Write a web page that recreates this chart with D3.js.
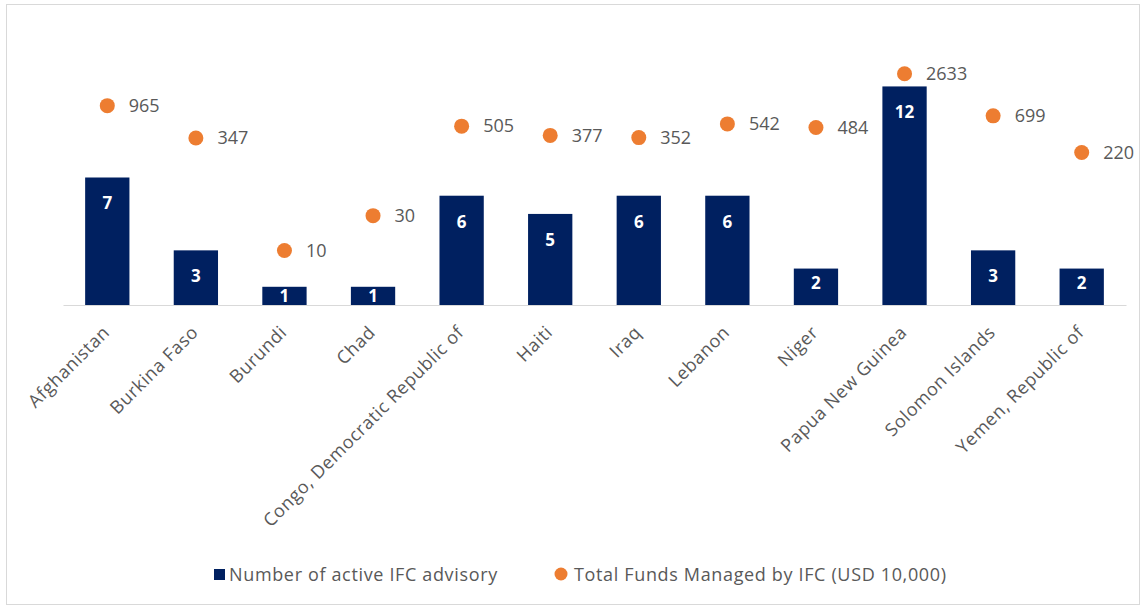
<!DOCTYPE html>
<html>
<head>
<meta charset="utf-8">
<script src="https://cdn.jsdelivr.net/npm/d3@7"></script>
<style>
  body { margin: 0; background: #fff; }
  text { font-family: "Open Sans", sans-serif; }
</style>
</head>
<body>
<div class="chart"></div>
<script>
var countries = ["Afghanistan", "Burkina Faso", "Burundi", "Chad", "Congo, Democratic Republic of",
                 "Haiti", "Iraq", "Lebanon", "Niger", "Papua New Guinea", "Solomon Islands", "Yemen, Republic of"];
var advisory = [7, 3, 1, 1, 6, 5, 6, 6, 2, 12, 3, 2];
var funds = [965, 347, 10, 30, 505, 377, 352, 542, 484, 2633, 699, 220];
var seriesNames = ["Number of active IFC advisory", "Total Funds Managed by IFC (USD 10,000)"];

var navy = "#002060",
    orange = "#ED7D31",
    grey = "#595959";

var svg = d3.select(".chart").append("svg")
            .attr("width", 1142)
            .attr("height", 607);

// chart border
svg.append("rect")
   .attr("x", 6.5)
   .attr("y", 4.5)
   .attr("width", 1133)
   .attr("height", 600)
   .attr("fill", "#fff")
   .attr("stroke", "#d9d9d9");

var x = d3.scaleBand()
          .domain(countries)
          .range([63, 1126])
          .paddingInner(0.5)
          .paddingOuter(0.25);

var y = d3.scaleLinear()
          .domain([0, 14])
          .range([305, 50]);

// secondary axis is logarithmic
var y2 = d3.scaleLog()
           .domain([1, 10000])
           .range([323.5, 31.5]);

// bars
svg.selectAll(".bar")
   .data(advisory)
   .enter().append("rect")
   .attr("class", "bar")
   .attr("x", function(d, i) { return x(countries[i]); })
   .attr("y", function(d) { return y(d); })
   .attr("width", x.bandwidth())
   .attr("height", function(d) { return y(0) - y(d); })
   .style("fill", navy);

svg.selectAll(".barlabel")
   .data(advisory)
   .enter().append("text")
   .attr("class", "barlabel")
   .attr("x", function(d, i) { return x(countries[i]) + x.bandwidth() / 2; })
   .attr("y", function(d) {
      var h = y(0) - y(d);
      return h > 45 ? y(d) + 26 : y(d) + Math.min(14, h / 2);
   })
   .attr("dy", "0.35em")
   .attr("text-anchor", "middle")
   .attr("fill", "#fff")
   .style("font-size", "17px")
   .style("font-weight", "bold")
   .text(function(d) { return d; });

// category axis
var xAxis = svg.append("g")
               .attr("transform", "translate(0,305)")
               .call(d3.axisBottom(x).tickSize(0).tickPadding(0));

xAxis.select(".domain")
     .attr("stroke", "#d9d9d9")
     .attr("stroke-width", 1.2);

xAxis.selectAll("text")
     .attr("fill", grey)
     .style("font-size", "18px")
     .style("letter-spacing", "0.6px")
     .attr("text-anchor", "end")
     .attr("y", 0)
     .attr("dy", "0.35em")
     .attr("transform", "translate(-1,24) rotate(-45)");

// funds dots
svg.selectAll(".dot")
   .data(funds)
   .enter().append("circle")
   .attr("class", "dot")
   .attr("cx", function(d, i) { return x(countries[i]) + x.bandwidth() / 2; })
   .attr("cy", function(d) { return y2(d); })
   .attr("r", 7.5)
   .style("fill", orange);

svg.selectAll(".dotlabel")
   .data(funds)
   .enter().append("text")
   .attr("class", "dotlabel")
   .attr("x", function(d, i) { return x(countries[i]) + x.bandwidth() / 2 + 21.5; })
   .attr("y", function(d) { return y2(d); })
   .attr("dy", "0.35em")
   .attr("fill", grey)
   .style("font-size", "18px")
   .text(function(d) { return d; });

// legend
svgLegend = svg.append("g");

svgLegend.append("rect")
   .attr("x", 214)
   .attr("y", 569)
   .attr("width", 11)
   .attr("height", 11)
   .style("fill", navy);

svgLegend.append("text")
   .attr("x", 229)
   .attr("y", 575)
   .attr("dy", "0.35em")
   .attr("fill", grey)
   .style("font-size", "18px")
   .style("letter-spacing", "0.65px")
   .text(seriesNames[0]);

svgLegend.append("circle")
   .attr("cx", 561)
   .attr("cy", 574)
   .attr("r", 6.5)
   .style("fill", orange);

svgLegend.append("text")
   .attr("x", 574)
   .attr("y", 575)
   .attr("dy", "0.35em")
   .attr("fill", grey)
   .style("font-size", "18px")
   .style("letter-spacing", "0.65px")
   .text(seriesNames[1]);
</script>
</body>
</html>
